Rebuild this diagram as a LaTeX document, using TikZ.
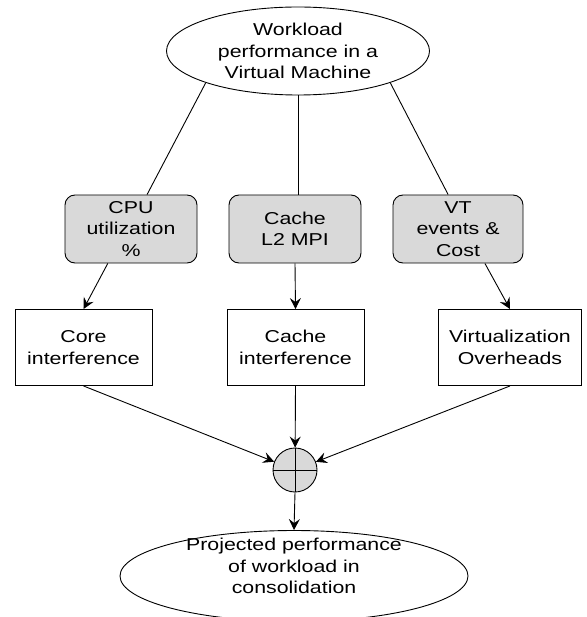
\documentclass[tikz,border=0pt]{standalone}
\usepackage{fontspec}
\setmainfont{Liberation Sans}[FakeStretch=1.24]
\usepackage{tikz}
\usetikzlibrary{positioning, arrows.meta, shapes}

\begin{document}
\begin{tikzpicture}[
    x=1pt, y=-1pt,
    line width=0.9pt,
    >={Stealth[length=11pt, width=11pt, inset=4pt]},
    every node/.style={font=\fontsize{17.2}{21.5}\selectfont, align=center, inner sep=0pt},
    goal/.style={ellipse, draw=black, fill=white},
    metric/.style={rectangle, rounded corners=10pt, draw=black, fill=gray!30, minimum width=132pt, minimum height=68pt},
    effect/.style={rectangle, draw=black, fill=white, minimum width=137pt, minimum height=76pt},
    combine/.style={circle, draw=black, fill=gray!30, minimum size=44pt}
]
    \useasboundingbox (0,0) rectangle (586,617);

    % workload on its own VM
    \node[goal, minimum width=263pt, minimum height=88pt] (wl) at (298,51) {Workload\\performance in a\\Virtual Machine};

    % measured metrics
    \node[metric] (cpu) at (131,229) {CPU\\utilization\\\%};
    \node[metric] (l2) at (295,229) {Cache\\L2 MPI};
    \node[metric, minimum width=130pt] (vt) at (458,229) {VT\\events \&\\Cost};

    % interference models
    \node[effect] (core) at (83.5,347.5) {Core\\interference};
    \node[effect] (cacheif) at (295.5,347.5) {Cache\\interference};
    \node[effect, minimum width=143pt] (virt) at (510,347.5) {Virtualization\\Overheads};

    % summation
    \node[combine] (sum) at (295,470) {};
    \draw (sum.west) -- (sum.east) (sum.north) -- (sum.south);

    % projected result
    \node[goal, minimum width=348pt, minimum height=91pt] (proj) at (294,576) {};
    \node (projtxt) at (294,566) {Projected performance\\of workload in\\consolidation};

    \draw (wl.199) -- (cpu.65);
    \draw (wl.south) -- (wl.south |- l2.north);
    \draw (wl.341) -- (vt.106);

    \draw[->] (cpu.236) -- (core.north);
    \draw[->] (l2.south) -- (cacheif.north);
    \draw[->] (vt.308) -- (virt.north);

    \draw[->] (core.south) -- (sum);
    \draw[->] (cacheif.south) -- (sum);
    \draw[->] (virt.south) -- (sum);

    \draw[->] (sum.south) -- (proj.north);

\end{tikzpicture}
\end{document}
